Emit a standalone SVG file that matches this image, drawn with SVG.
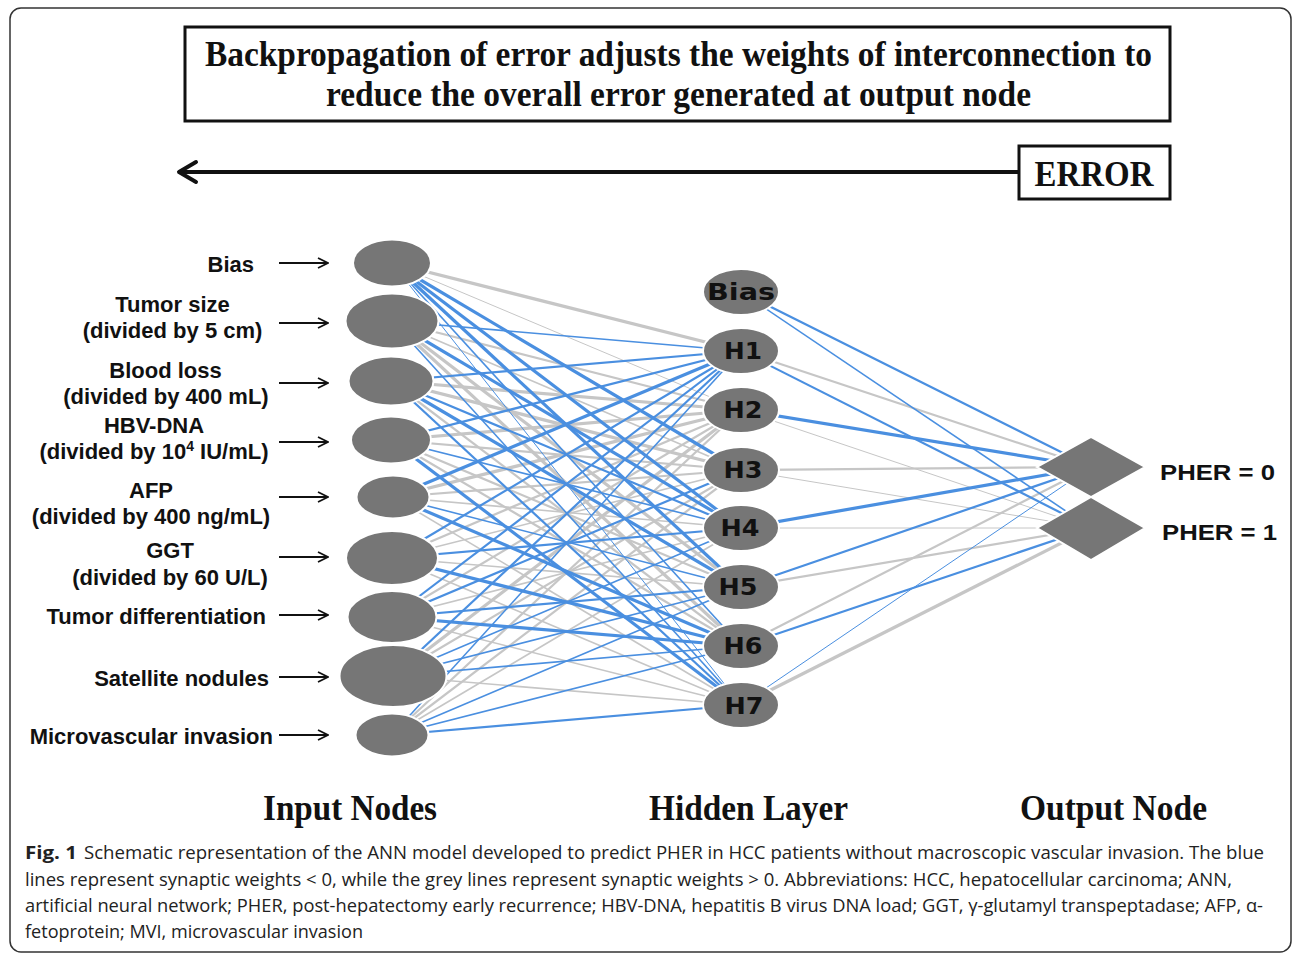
<svg xmlns="http://www.w3.org/2000/svg" width="1292" height="954" viewBox="0 0 1292 954">
  <defs>
    <style>
      .serif { font-family: "Liberation Serif", "Times New Roman", serif; font-weight: bold; fill: #111; }
      .lab { font-family: "Liberation Sans", Arial, sans-serif; font-weight: bold; font-size: 22px; fill: #111; }
      .hid { font-family: "DejaVu Sans", "Liberation Sans", sans-serif; font-weight: bold; font-size: 23px; fill: #111; text-anchor: middle; }
      .cap { font-family: "Open Sans", "Noto Sans", sans-serif; font-size: 18.5px; fill: #222; }
      .node { fill: #767676; stroke: #ffffff; stroke-width: 2; }
      .b { stroke: #4a8fe0; fill: none; }
      .g { stroke: #c6c6c6; fill: none; }
      .w1 { stroke-width: 1; }
      .w15 { stroke-width: 1.6; }
      .w2 { stroke-width: 2.2; }
      .w3 { stroke-width: 3.2; }
      .inarrow { stroke: #111; stroke-width: 1.8; fill: none; }
    </style>
    <marker id="ah" viewBox="0 0 12 12" refX="11" refY="6" markerWidth="12" markerHeight="12" markerUnits="userSpaceOnUse" orient="auto">
      <path d="M1,1 L11,6 L1,11" fill="none" stroke="#111" stroke-width="1.8"/>
    </marker>
  </defs>

  <rect width="1292" height="954" fill="#ffffff"/>
  <!-- figure frame -->
  <rect x="10" y="8" width="1281" height="944" rx="11" fill="none" stroke="#333" stroke-width="1.5"/>

  <!-- header box -->
  <g id="header">
    <rect x="185" y="27" width="985" height="94" fill="#fff" stroke="#111" stroke-width="3"/>
    <text class="serif" x="678.5" y="66" font-size="35" text-anchor="middle" textLength="947" lengthAdjust="spacingAndGlyphs">Backpropagation of error adjusts the weights of interconnection to</text>
    <text class="serif" x="678.5" y="106" font-size="35" text-anchor="middle" textLength="705" lengthAdjust="spacingAndGlyphs">reduce the overall error generated at output node</text>
  </g>

  <!-- error feedback arrow -->
  <g id="error">
    <line x1="179" y1="172" x2="1019" y2="172" stroke="#111" stroke-width="4"/>
    <polyline points="196,162 179,172 196,182" fill="none" stroke="#111" stroke-width="4" stroke-linecap="round" stroke-linejoin="round"/>
    <rect x="1019" y="146" width="151" height="53" fill="#fff" stroke="#111" stroke-width="3"/>
    <text class="serif" x="1094" y="186" font-size="36" text-anchor="middle" textLength="119" lengthAdjust="spacingAndGlyphs">ERROR</text>
  </g>

  <!-- weights: input layer to hidden layer, then hidden layer to outputs -->
  <g id="connectors">
    <!-- positive weights (grey) -->
    <line class="g w3" x1="392" y1="263" x2="741" y2="351"/>
    <line class="g w1" x1="392" y1="263" x2="741" y2="410"/>
    <line class="g w2" x1="392" y1="321" x2="741" y2="410"/>
    <line class="g w15" x1="392" y1="321" x2="741" y2="470"/>
    <line class="g w3" x1="392" y1="321" x2="741" y2="587"/>
    <line class="g w3" x1="392" y1="321" x2="741" y2="646"/>
    <line class="g w3" x1="391" y1="381" x2="741" y2="410"/>
    <line class="g w3" x1="391" y1="381" x2="741" y2="470"/>
    <line class="g w2" x1="391" y1="381" x2="741" y2="646"/>
    <line class="g w3" x1="391" y1="440" x2="741" y2="410"/>
    <line class="g w2" x1="391" y1="440" x2="741" y2="470"/>
    <line class="g w2" x1="391" y1="440" x2="741" y2="587"/>
    <line class="g w2" x1="391" y1="440" x2="741" y2="646"/>
    <line class="g w3" x1="393" y1="497" x2="741" y2="410"/>
    <line class="g w2" x1="393" y1="497" x2="741" y2="470"/>
    <line class="g w15" x1="393" y1="497" x2="741" y2="528"/>
    <line class="g w15" x1="393" y1="497" x2="741" y2="705"/>
    <line class="g w2" x1="392" y1="558" x2="741" y2="410"/>
    <line class="g w15" x1="392" y1="558" x2="741" y2="470"/>
    <line class="g w15" x1="392" y1="558" x2="741" y2="587"/>
    <line class="g w15" x1="392" y1="558" x2="741" y2="705"/>
    <line class="g w2" x1="392" y1="617" x2="741" y2="410"/>
    <line class="g w15" x1="392" y1="617" x2="741" y2="528"/>
    <line class="g w15" x1="392" y1="617" x2="741" y2="705"/>
    <line class="g w3" x1="393" y1="676" x2="741" y2="410"/>
    <line class="g w2" x1="393" y1="676" x2="741" y2="470"/>
    <line class="g w15" x1="393" y1="676" x2="741" y2="705"/>
    <line class="g w2" x1="392" y1="735" x2="741" y2="410"/>
    <line class="g w2" x1="392" y1="735" x2="741" y2="470"/>
    <line class="g w15" x1="392" y1="735" x2="741" y2="528"/>

    <!-- negative weights (blue) -->
    <line class="b w3" x1="392" y1="263" x2="741" y2="470"/>
    <line class="b w3" x1="392" y1="263" x2="741" y2="528"/>
    <line class="b w3" x1="392" y1="263" x2="741" y2="587"/>
    <line class="b w15" x1="392" y1="263" x2="741" y2="646"/>
    <line class="b w1" x1="392" y1="263" x2="741" y2="705"/>
    <line class="b w15" x1="392" y1="321" x2="741" y2="351"/>
    <line class="b w3" x1="392" y1="321" x2="741" y2="528"/>
    <line class="b w15" x1="392" y1="321" x2="741" y2="705"/>
    <line class="b w2" x1="391" y1="381" x2="741" y2="351"/>
    <line class="b w2" x1="391" y1="381" x2="741" y2="528"/>
    <line class="b w3" x1="391" y1="381" x2="741" y2="587"/>
    <line class="b w2" x1="391" y1="381" x2="741" y2="705"/>
    <line class="b w2" x1="391" y1="440" x2="741" y2="351"/>
    <line class="b w15" x1="391" y1="440" x2="741" y2="528"/>
    <line class="b w3" x1="391" y1="440" x2="741" y2="705"/>
    <line class="b w3" x1="393" y1="497" x2="741" y2="351"/>
    <line class="b w15" x1="393" y1="497" x2="741" y2="587"/>
    <line class="b w3" x1="393" y1="497" x2="741" y2="646"/>
    <line class="b w2" x1="392" y1="558" x2="741" y2="351"/>
    <line class="b w2" x1="392" y1="558" x2="741" y2="528"/>
    <line class="b w3" x1="392" y1="558" x2="741" y2="646"/>
    <line class="b w2" x1="392" y1="617" x2="741" y2="351"/>
    <line class="b w2" x1="392" y1="617" x2="741" y2="470"/>
    <line class="b w2" x1="392" y1="617" x2="741" y2="587"/>
    <line class="b w3" x1="392" y1="617" x2="741" y2="646"/>
    <line class="b w2" x1="393" y1="676" x2="741" y2="351"/>
    <line class="b w15" x1="393" y1="676" x2="741" y2="528"/>
    <line class="b w15" x1="393" y1="676" x2="741" y2="587"/>
    <line class="b w15" x1="393" y1="676" x2="741" y2="646"/>
    <line class="b w15" x1="392" y1="735" x2="741" y2="351"/>
    <line class="b w15" x1="392" y1="735" x2="741" y2="587"/>
    <line class="b w15" x1="392" y1="735" x2="741" y2="646"/>
    <line class="b w2" x1="392" y1="735" x2="741" y2="705"/>

    <!-- hidden layer to outputs -->
    <line class="g w2" x1="741" y1="351" x2="1091" y2="467"/>
    <line class="g w1" x1="741" y1="410" x2="1091" y2="528"/>
    <line class="g w2" x1="741" y1="470" x2="1091" y2="467"/>
    <line class="g w1" x1="741" y1="470" x2="1091" y2="528"/>
    <line class="g w1" x1="741" y1="528" x2="1091" y2="528"/>
    <line class="g w2" x1="741" y1="587" x2="1091" y2="528"/>
    <line class="g w2" x1="741" y1="646" x2="1091" y2="467"/>
    <line class="g w3" x1="741" y1="705" x2="1091" y2="528"/>
    <line class="b w2" x1="741" y1="292" x2="1091" y2="467"/>
    <line class="b w15" x1="741" y1="292" x2="1091" y2="528"/>
    <line class="b w2" x1="741" y1="351" x2="1091" y2="528"/>
    <line class="b w3" x1="741" y1="410" x2="1091" y2="467"/>
    <line class="b w3" x1="741" y1="528" x2="1091" y2="467"/>
    <line class="b w2" x1="741" y1="587" x2="1091" y2="467"/>
    <line class="b w2" x1="741" y1="646" x2="1091" y2="528"/>
    <line class="b w1" x1="741" y1="705" x2="1091" y2="467"/>
  </g>

  <!-- input layer -->
  <g id="in-bias">
    <text class="lab" x="254" y="272" text-anchor="end">Bias</text>
    <line class="inarrow" x1="279" y1="263" x2="328" y2="263" marker-end="url(#ah)"/>
    <ellipse class="node" cx="392" cy="263" rx="39" ry="23.5"/>
  </g>
  <g id="in-tumor-size">
    <text class="lab" x="172.5" y="312" text-anchor="middle">Tumor size</text>
    <text class="lab" x="172.5" y="338" text-anchor="middle">(divided by 5 cm)</text>
    <line class="inarrow" x1="279" y1="323" x2="328" y2="323" marker-end="url(#ah)"/>
    <ellipse class="node" cx="392" cy="321" rx="46.5" ry="27.5"/>
  </g>
  <g id="in-blood-loss">
    <text class="lab" x="165.5" y="378" text-anchor="middle">Blood loss</text>
    <text class="lab" x="166" y="404" text-anchor="middle">(divided by 400 mL)</text>
    <line class="inarrow" x1="279" y1="383" x2="328" y2="383" marker-end="url(#ah)"/>
    <ellipse class="node" cx="391" cy="381" rx="42.5" ry="24.5"/>
  </g>
  <g id="in-hbv-dna">
    <text class="lab" x="154" y="433" text-anchor="middle">HBV-DNA</text>
    <text class="lab" x="154" y="459" text-anchor="middle">(divided by 10<tspan font-size="14" dy="-8">4</tspan><tspan dy="8"> IU/mL)</tspan></text>
    <line class="inarrow" x1="279" y1="442" x2="328" y2="442" marker-end="url(#ah)"/>
    <ellipse class="node" cx="391" cy="440" rx="40" ry="23.5"/>
  </g>
  <g id="in-afp">
    <text class="lab" x="151" y="498" text-anchor="middle">AFP</text>
    <text class="lab" x="151" y="524" text-anchor="middle">(divided by 400 ng/mL)</text>
    <line class="inarrow" x1="279" y1="497" x2="328" y2="497" marker-end="url(#ah)"/>
    <ellipse class="node" cx="393" cy="497" rx="36.5" ry="21.5"/>
  </g>
  <g id="in-ggt">
    <text class="lab" x="170" y="558" text-anchor="middle">GGT</text>
    <text class="lab" x="170" y="585" text-anchor="middle">(divided by 60 U/L)</text>
    <line class="inarrow" x1="279" y1="557" x2="328" y2="557" marker-end="url(#ah)"/>
    <ellipse class="node" cx="392" cy="558" rx="46" ry="27"/>
  </g>
  <g id="in-tumor-diff">
    <text class="lab" x="266" y="624" text-anchor="end">Tumor differentiation</text>
    <line class="inarrow" x1="279" y1="615" x2="328" y2="615" marker-end="url(#ah)"/>
    <ellipse class="node" cx="392" cy="617" rx="44.5" ry="26"/>
  </g>
  <g id="in-satellite">
    <text class="lab" x="269" y="686" text-anchor="end">Satellite nodules</text>
    <line class="inarrow" x1="279" y1="677" x2="328" y2="677" marker-end="url(#ah)"/>
    <ellipse class="node" cx="393" cy="676" rx="53.5" ry="31"/>
  </g>
  <g id="in-mvi">
    <text class="lab" x="273" y="744" text-anchor="end">Microvascular invasion</text>
    <line class="inarrow" x1="279" y1="735" x2="328" y2="735" marker-end="url(#ah)"/>
    <ellipse class="node" cx="392" cy="735" rx="36.5" ry="21.5"/>
  </g>

  <!-- hidden layer -->
  <g id="h-bias">
    <ellipse class="node" cx="741" cy="292" rx="38" ry="23"/>
    <text class="hid" x="741" y="300" textLength="68" lengthAdjust="spacingAndGlyphs">Bias</text>
  </g>
  <g id="h1">
    <ellipse class="node" cx="741" cy="351" rx="38" ry="23"/>
    <text class="hid" x="743" y="359" textLength="38" lengthAdjust="spacingAndGlyphs">H1</text>
  </g>
  <g id="h2">
    <ellipse class="node" cx="741" cy="410" rx="38" ry="23"/>
    <text class="hid" x="743" y="418" textLength="39" lengthAdjust="spacingAndGlyphs">H2</text>
  </g>
  <g id="h3">
    <ellipse class="node" cx="741" cy="470" rx="38" ry="23"/>
    <text class="hid" x="743" y="478" textLength="39" lengthAdjust="spacingAndGlyphs">H3</text>
  </g>
  <g id="h4">
    <ellipse class="node" cx="741" cy="528" rx="38" ry="23"/>
    <text class="hid" x="740" y="536" textLength="39" lengthAdjust="spacingAndGlyphs">H4</text>
  </g>
  <g id="h5">
    <ellipse class="node" cx="741" cy="587" rx="38" ry="23"/>
    <text class="hid" x="738" y="595" textLength="39" lengthAdjust="spacingAndGlyphs">H5</text>
  </g>
  <g id="h6">
    <ellipse class="node" cx="741" cy="646" rx="38" ry="23"/>
    <text class="hid" x="743" y="654" textLength="39" lengthAdjust="spacingAndGlyphs">H6</text>
  </g>
  <g id="h7">
    <ellipse class="node" cx="741" cy="705" rx="38" ry="23"/>
    <text class="hid" x="744" y="714" textLength="39" lengthAdjust="spacingAndGlyphs">H7</text>
  </g>

  <!-- output layer -->
  <g id="out-0">
    <polygon class="node" points="1091,437 1145,467 1091,497 1037,467"/>
    <text class="lab" x="1160" y="480" font-size="25" textLength="115" lengthAdjust="spacingAndGlyphs">PHER = 0</text>
  </g>
  <g id="out-1">
    <polygon class="node" points="1091,497 1145,528 1091,560 1037,528"/>
    <text class="lab" x="1162" y="540" font-size="25" textLength="115" lengthAdjust="spacingAndGlyphs">PHER = 1</text>
  </g>

  <!-- layer titles -->
  <g id="layer-titles">
    <text class="serif" x="350" y="820" font-size="35" text-anchor="middle" textLength="174" lengthAdjust="spacingAndGlyphs">Input Nodes</text>
    <text class="serif" x="748.5" y="820" font-size="35" text-anchor="middle" textLength="199" lengthAdjust="spacingAndGlyphs">Hidden Layer</text>
    <text class="serif" x="1113.5" y="820" font-size="35" text-anchor="middle" textLength="187" lengthAdjust="spacingAndGlyphs">Output Node</text>
  </g>

  <!-- caption -->
  <g id="caption">
    <text class="cap" x="25" y="859" font-weight="bold" textLength="52" lengthAdjust="spacingAndGlyphs">Fig. 1</text>
    <text class="cap" x="84" y="859" textLength="1180" lengthAdjust="spacingAndGlyphs">Schematic representation of the ANN model developed to predict PHER in HCC patients without macroscopic vascular invasion. The blue</text>
    <text class="cap" x="25" y="886" textLength="1207" lengthAdjust="spacingAndGlyphs">lines represent synaptic weights &lt; 0, while the grey lines represent synaptic weights &gt; 0. Abbreviations: HCC, hepatocellular carcinoma; ANN,</text>
    <text class="cap" x="25" y="912" textLength="1238" lengthAdjust="spacingAndGlyphs">artificial neural network; PHER, post-hepatectomy early recurrence; HBV-DNA, hepatitis B virus DNA load; GGT, γ-glutamyl transpeptadase; AFP, α-</text>
    <text class="cap" x="25" y="938" textLength="338" lengthAdjust="spacingAndGlyphs">fetoprotein; MVI, microvascular invasion</text>
  </g>
</svg>
